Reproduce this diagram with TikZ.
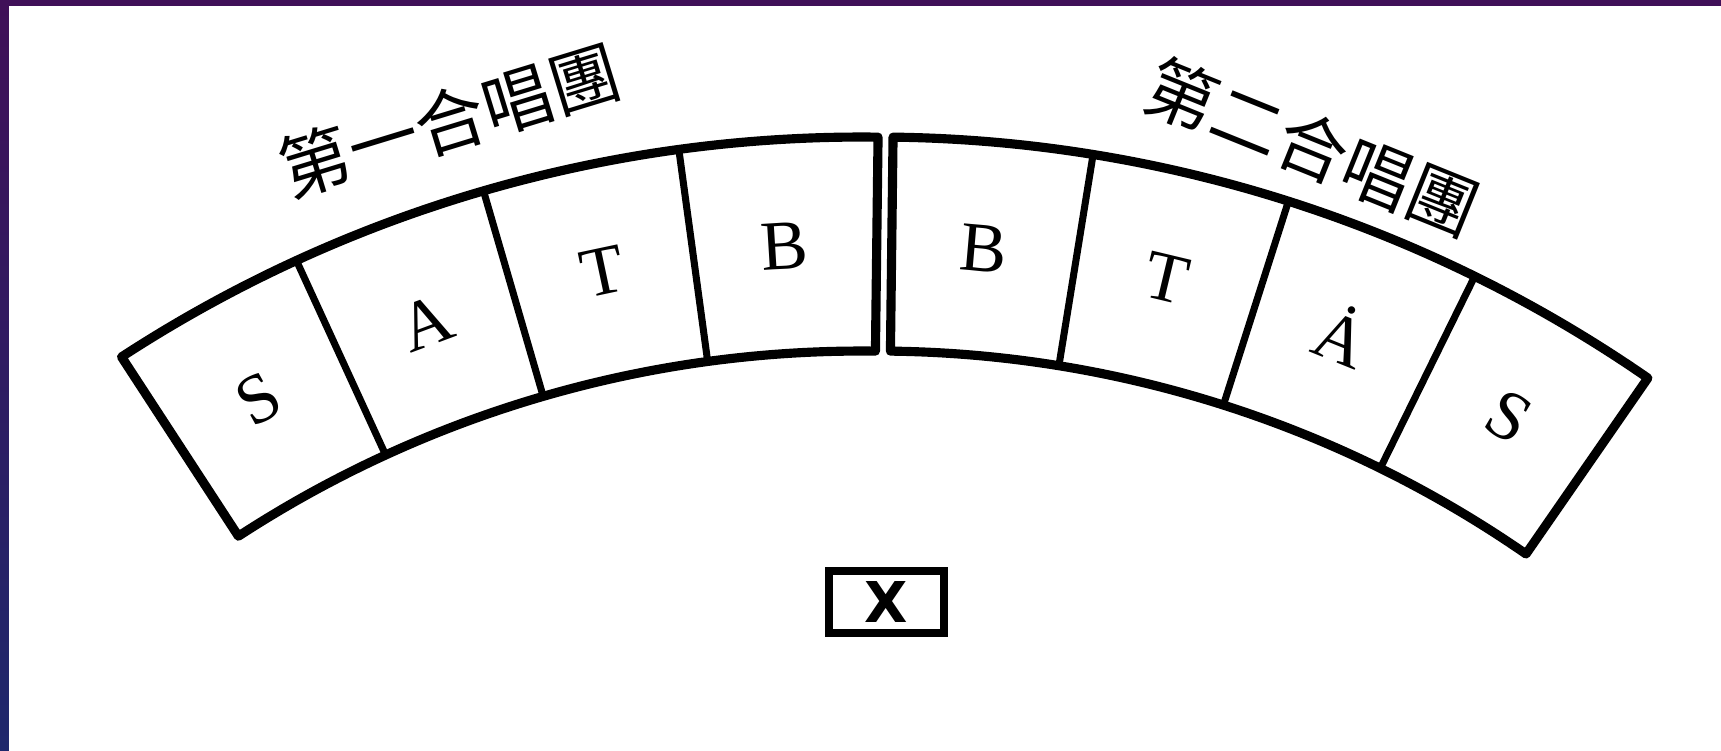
\documentclass[tikz,border=0pt]{standalone}
\usepackage{fontspec}
\usepackage{xcolor}
\usepackage{tikz}
\usetikzlibrary{calc}
\newfontfamily\cjkfont{Noto Sans CJK TC}
\newfontfamily\voicefont{Liberation Serif}
\newfontfamily\podiumfont{DejaVu Sans}
\definecolor{framepurple}{RGB}{64,16,88}
\definecolor{framenavy}{RGB}{30,40,108}

\begin{document}
\begin{tikzpicture}[
  rim/.style={line width=2.6pt, line join=round},
  divider/.style={line width=2pt},
  voice/.style={inner sep=0pt, font=\voicefont\fontsize{20}{20}\selectfont},
  choir/.style={inner sep=0pt, font=\cjkfont\fontsize{20}{20}\selectfont},
  podium/.style={draw, line width=2.3pt, minimum width=1.15cm, minimum height=0.62cm,
    inner sep=0pt, font=\podiumfont\bfseries\fontsize{16}{16}\selectfont}]

\def\wl{8.45} % width of a box, first choir (degrees)
\def\wr{8.5}  % width of a box, second choir

\useasboundingbox (0,0) rectangle (17.21,-7.51);
\fill[white] (0,0) rectangle (17.21,-7.51);
\fill[framepurple] (0,0) rectangle (17.21,-0.06); %frame
\shade[top color=framepurple, bottom color=framenavy] (0,0) rectangle (0.09,-7.51);

% centres of the two arcs, pulled apart for the gap
\coordinate (cl) at (8.615,-14.92);
\coordinate (cr) at (8.765,-14.92);

% first choir
\draw[rim] ($(cl)+(89.3:13.55)$) arc[start angle=89.3, end angle={89.3+4*\wl}, radius=13.55]
  -- ($(cl)+({89.3+4*\wl}:11.41)$) arc[start angle={89.3+4*\wl}, end angle=89.3, radius=11.41] -- cycle;
\foreach \k in {1,2,3}
  \draw[divider] ($(cl)+({89.3+\wl*\k}:11.41)$) -- ($(cl)+({89.3+\wl*\k}:13.55)$);
\foreach \v [count=\k] in {B,T,A,S}
  \node[voice, rotate={\wl*\k-\wl/2-0.7}] (left\v) at ($(cl)+({89.3+\wl*\k-\wl/2}:12.48)$) {\v};

% second choir
\draw[rim] ($(cr)+(89.3:13.55)$) arc[start angle=89.3, end angle={89.3-4*\wr}, radius=13.55]
  -- ($(cr)+({89.3-4*\wr}:11.41)$) arc[start angle={89.3-4*\wr}, end angle=89.3, radius=11.41] -- cycle;
\foreach \k in {1,2,3}
  \draw[divider] ($(cr)+({89.3-\wr*\k}:11.41)$) -- ($(cr)+({89.3-\wr*\k}:13.55)$);
\foreach \v/\n [count=\k] in {B/B, T/T, Ȧ/A, S/S}
  \node[voice, rotate={-\wr*\k+\wr/2-0.7}] (right\n) at ($(cr)+({89.3-\wr*\k+\wr/2}:12.48)$) {\v};

\node[choir, rotate=17] (choirone) at (4.50,-1.20) {第一合唱團};
\node[choir, rotate=-22] (choirtwo) at (13.13,-1.47) {第二合唱團};

\node[podium] (conductor) at (8.865,-6.02) {X};
\end{tikzpicture}
\end{document}
